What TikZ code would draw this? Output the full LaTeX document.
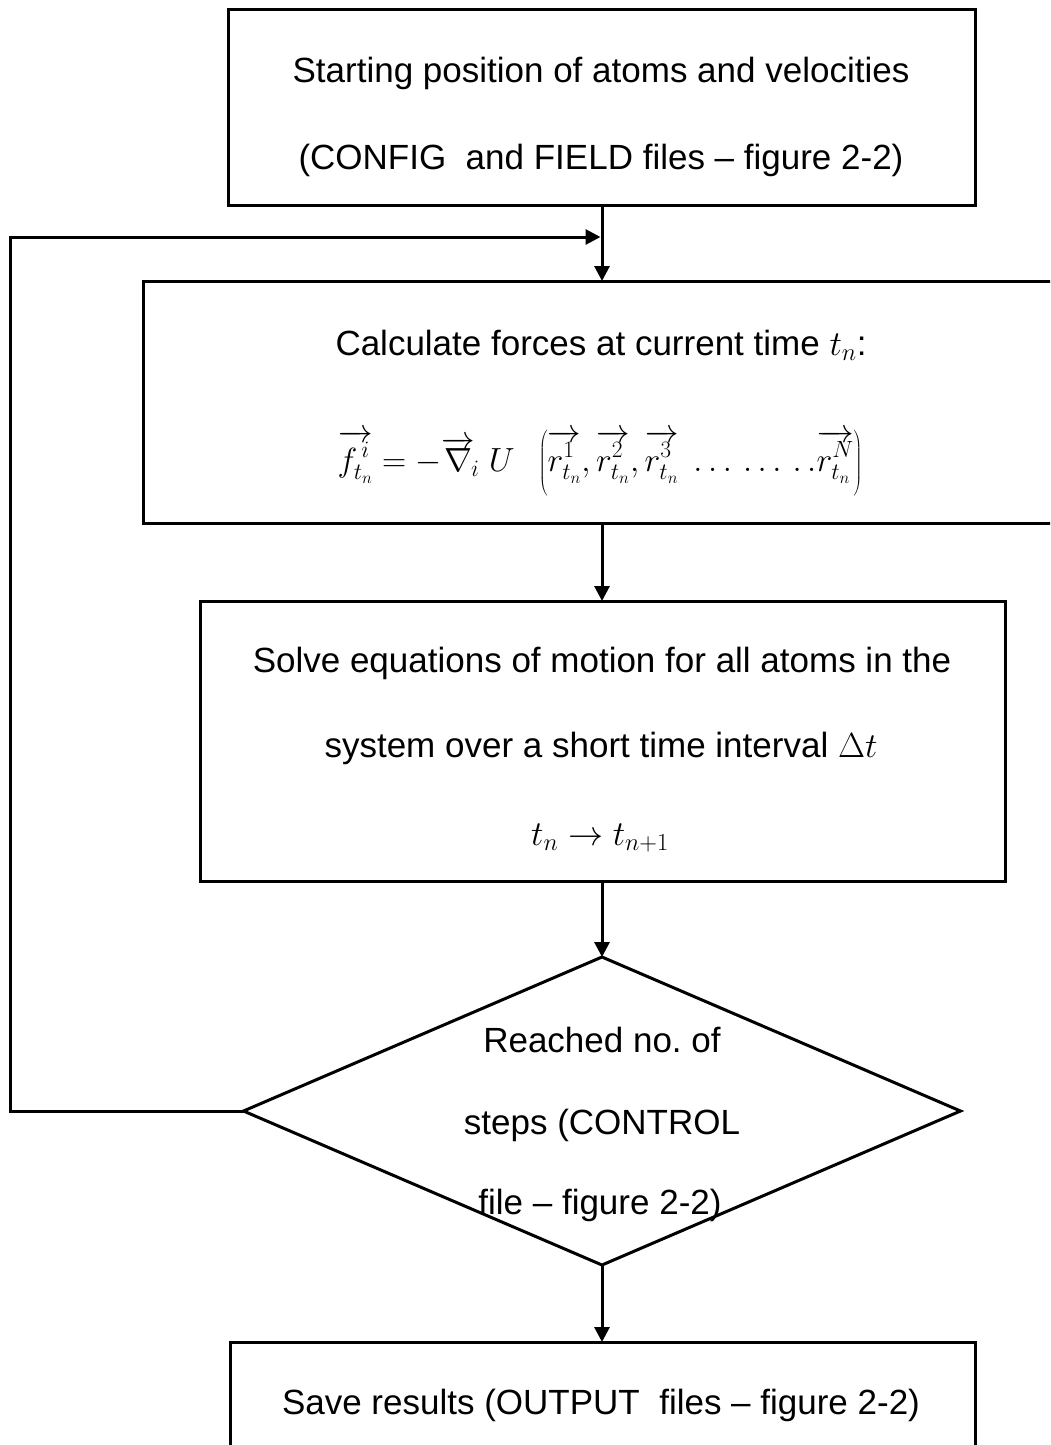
\RequirePackage{fix-cm}
\documentclass[tikz,border=0pt]{standalone}
\usepackage{fontspec}
\setmainfont{Liberation Sans}
\frenchspacing
\usetikzlibrary{shapes.geometric,arrows.meta}
\tikzset{
  box/.style={draw, line width=3pt, inner sep=0pt, outer sep=0pt},
  decision/.style={draw, diamond, line width=3pt, inner sep=0pt, outer sep=0pt},
  txt/.style={inner sep=0pt, anchor=center, font=\fontsize{35}{42}\selectfont},
  eqn/.style={inner sep=0pt, anchor=center, font=\fontsize{33.5}{40}\selectfont},
  tip/.style={-{Triangle[length=15pt,width=15pt]}},
  flow/.style={line width=3pt, tip},
  plain/.style={line width=3pt}
}
% vector arrow with a little clearance above its argument
\newcommand{\vecup}[1]{\overrightarrow{\vphantom{I^{I}}#1}}
\begin{document}
\begin{tikzpicture}[x=1pt,y=-1pt]
\useasboundingbox (0,0) rectangle (1050,1445);
\clip (0,0) rectangle (1050,1445);

% process boxes
\node[box, minimum width=747pt, minimum height=195pt] (start) at (601.5,107.5) {};
\node[box, minimum width=957pt, minimum height=242pt] (forces) at (621.5,402) {};
\node[box, minimum width=805pt, minimum height=280pt] (solve) at (602.5,741) {};
\node[decision, minimum width=717pt, minimum height=308pt] (check) at (602,1111) {};
\node[box, minimum width=745pt, minimum height=200pt] (save) at (602.5,1442) {};

% box texts
\node[txt] (t1a) at (601,73) {Starting position of atoms and velocities};
\node[txt] (t1b) at (601,160) {(CONFIG\ \ and FIELD files -- figure 2-2)};
\node[txt] (t2a) at (601,345) {Calculate forces at current time $t_n$:};
\node[eqn] (t2b) at (600,463) {$\vecup{f^{\,i}_{t_n}} = -\overrightarrow{\nabla}_{\!i}\;U\;\;\left(\vecup{r^{1}_{t_n}},\vecup{r^{2}_{t_n}},\vecup{r^{3}_{t_n}}\;\ldots\,\ldots\,.\,.\vecup{r^{N}_{t_n}}\right)$};
\node[txt] (t3a) at (602,663) {Solve equations of motion for all atoms in the};
\node[txt] (t3b) at (601,748) {system over a short time interval $\Delta t$};
\node[txt] (t3c) at (600,838) {$t_n \rightarrow t_{n+1}$};
\node[txt] (t4a) at (602,1040) {Reached no. of};
\node[txt] (t4b) at (602,1125) {steps (CONTROL};
\node[txt] (t4c) at (600,1205) {file -- figure 2-2)};
\node[txt] (t5) at (601,1405) {Save results (OUTPUT\ \ files -- figure 2-2)};

% main flow
\coordinate (join) at (602,237);
\draw[flow] (start.south -| join) -- (forces.north -| join);
\draw[flow] (forces.south -| join) -- (solve.north -| join);
\draw[flow] (solve.south -| join) -- (check.north);
\draw[flow] (check.south) -- (save.north -| join);

% loop back to the force calculation
\coordinate (corner1) at (10,1111);
\coordinate (corner2) at (10,237);
\draw[flow] (check.west) -- (corner1) -- (corner2) -- ([xshift=-1.5pt]join);
\end{tikzpicture}
\end{document}
